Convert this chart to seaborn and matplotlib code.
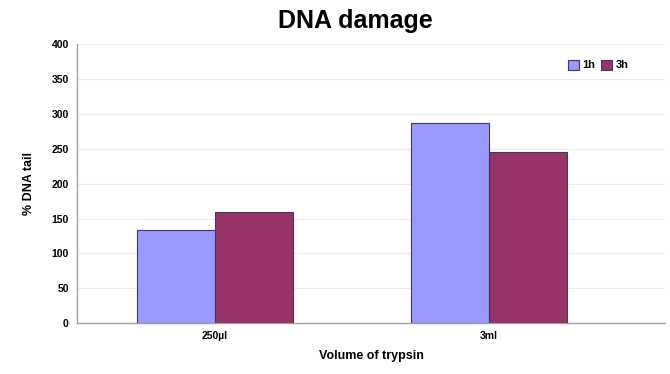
import numpy as np
import pandas as pd
import matplotlib
matplotlib.use('Agg')
import matplotlib.pyplot as plt
import seaborn as sns

volumes = ['250µl', '3ml']
times = ['1h', '3h']
tail_1h = [134, 287]
tail_3h = [160, 246]

df = pd.DataFrame({
    'Volume': volumes * 2,
    'Time': [times[0]] * 2 + [times[1]] * 2,
    'Tail': tail_1h + tail_3h,
})

sns.set_style('white')
plt.rcParams['font.family'] = ['Liberation Sans', 'DejaVu Sans']
plt.rcParams['text.color'] = 'black'
plt.rcParams['xtick.color'] = 'black'
plt.rcParams['ytick.color'] = 'black'
plt.rcParams['axes.labelcolor'] = 'black'

fig = plt.figure(figsize=(6.7, 3.74), dpi=100)
ax = fig.add_axes([0.115, 0.136, 0.8775, 0.746])

sns.barplot(data=df, x='Volume', y='Tail', hue='Time', hue_order=times,
            palette=['#9999FF', '#993366'], width=0.57, saturation=1,
            edgecolor='#3a3a6a', linewidth=0.8, ax=ax, zorder=3)

ax.set_xlim(-0.504, 1.642)
ax.set_ylim(0, 400)
ax.set_yticks(range(0, 401, 50))
ax.yaxis.grid(True, color='#ececec', linewidth=0.8, zorder=0)
ax.set_axisbelow(True)
for s in ['top', 'right']:
    ax.spines[s].set_visible(False)
for s in ['left', 'bottom']:
    ax.spines[s].set_color('#a0a0a0')
    ax.spines[s].set_linewidth(1)
ax.tick_params(axis='both', length=0, labelsize=7.5, pad=6)
for lab in ax.get_xticklabels() + ax.get_yticklabels():
    lab.set_fontweight('bold')

ax.set_xlabel('Volume of trypsin', fontsize=9, fontweight='bold', labelpad=6)
ax.set_ylabel('% DNA tail', fontsize=9, fontweight='bold', labelpad=12)
fig.text(0.53, 0.945, 'DNA damage', fontsize=18, fontweight='bold',
         ha='center', va='center')

leg = ax.legend(loc='upper right', bbox_to_anchor=(0.955, 0.98), ncol=2, frameon=False,
                fontsize=8, handlelength=1.0, handleheight=1.0, handletextpad=0.3,
                columnspacing=0.5)
for t in leg.get_texts():
    t.set_fontweight('bold')

fig.savefig('out.png', dpi=100)
